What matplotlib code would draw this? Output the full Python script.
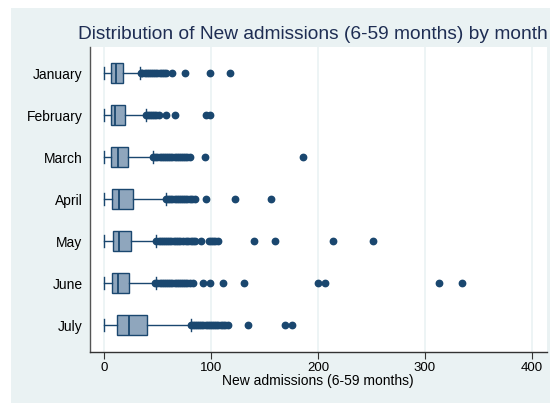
#!/usr/bin/env python
# coding=utf-8

import matplotlib
matplotlib.use('Agg')
import matplotlib.pyplot as plt
from matplotlib.patches import Rectangle

#  Months, top to bottom
months = ['January', 'February', 'March', 'April', 'May', 'June', 'July']

#  Box statistics
whis_lo = [0, 0, 0, 0, 0, 0, 0]
q1 = [6.5, 6.5, 6.5, 7.8, 8.7, 7.8, 11.8]
med = [11, 10.3, 12.8, 14.3, 14.3, 13.4, 23.7]
q3 = [17.8, 19.6, 22.7, 27.4, 24.9, 23.7, 40.5]
whis_hi = [34, 39, 45.5, 58, 48.6, 48.3, 81]

#  Outside values
fliers = [
    [35, 36, 38, 40, 42, 44, 46, 48, 50, 52, 54, 56, 58, 64, 76, 99, 118],
    [39, 41, 43, 45, 47, 49, 51, 58, 66, 95, 99],
    [46, 48, 50, 52, 54, 56, 58, 60, 62, 64, 66, 68, 70, 72, 74, 76, 78,
     80, 94, 186],
    [58, 60, 62, 64, 66, 68, 70, 72, 74, 76, 78, 80, 82, 85, 95, 122, 156],
    [49, 51, 53, 55, 57, 59, 61, 63, 65, 67, 69, 71, 74, 77, 79, 81, 83,
     85, 91, 98, 100, 102, 104, 107, 140, 160, 214, 251],
    [48, 50, 52, 54, 56, 58, 60, 62, 64, 66, 68, 70, 72, 74, 76, 78, 80,
     83, 93, 99, 111, 131, 200, 207, 313, 335],
    [81, 83, 85, 87, 89, 91, 93, 95, 97, 99, 101, 103, 105, 107, 109, 111,
     113, 116, 135, 169, 176],
]

x_ticks = [0, 100, 200, 300, 400]

navy = '#1A476F'
box_fill = '#8FA6BD'
bg_col = '#EAF2F3'
title_col = '#1E2D53'

plt.rcParams['font.family'] = ['Liberation Sans', 'DejaVu Sans']

fig = plt.figure(figsize=(5.5, 4.03), dpi=100)
fig.patch.set_facecolor('white')

#  Stata like outer background
fig.patches.append(Rectangle((11 / 550., 0), 1, 1 - 8 / 403.,
                             transform=fig.transFigure, facecolor=bg_col,
                             edgecolor='none', zorder=-10))

ax = fig.add_axes([89.5 / 550., 51 / 403., (547 - 89.5) / 550.,
                   (352 - 47) / 403.])
ax.set_facecolor('white')

stats = []
for i in range(len(months)):
    stats.append({'whislo': whis_lo[i], 'q1': q1[i], 'med': med[i],
                  'q3': q3[i], 'whishi': whis_hi[i], 'fliers': fliers[i]})

positions = list(range(1, len(months) + 1))

ax.bxp(stats, positions=positions, orientation='horizontal',
       widths=0.48, capwidths=0.3, patch_artist=True, showfliers=True,
       boxprops=dict(facecolor=box_fill, edgecolor=navy, linewidth=1.0),
       medianprops=dict(color=navy, linewidth=1.3),
       whiskerprops=dict(color=navy, linewidth=1.0),
       capprops=dict(color=navy, linewidth=1.0),
       flierprops=dict(marker='o', markerfacecolor=navy,
                       markeredgecolor=navy, markersize=4.6,
                       linestyle='none'))

ax.set_xlim(-13.5, 414)
ax.set_ylim(7.64, 0.38)

ax.set_yticks(positions)
ax.set_yticklabels(months, fontsize=10)
ax.tick_params(axis='y', length=0, pad=5)

ax.set_xticks(x_ticks)
ax.set_xticklabels([str(t) for t in x_ticks], fontsize=9.5)
ax.tick_params(axis='x', length=5, width=0.8, color='#333333', pad=2)

for t in x_ticks:
    ax.axvline(t, color=bg_col, linewidth=1.2, zorder=0)

for side in ['top', 'right']:
    ax.spines[side].set_visible(False)
ax.spines['left'].set_color('#555555')
ax.spines['bottom'].set_color('#333333')
ax.spines['left'].set_linewidth(1.0)
ax.spines['bottom'].set_linewidth(1.0)

ax.set_xlabel('New admissions (6-59 months)', fontsize=10, labelpad=0)

fig.text(78 / 550., 1 - 39 / 403.,
         'Distribution of New admissions (6-59 months) by month',
         fontsize=13.8, color=title_col, ha='left', va='baseline')

plt.savefig('out.png', dpi=100)
plt.close()
